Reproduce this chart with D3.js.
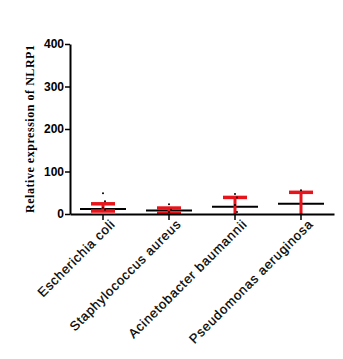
<!DOCTYPE html>
<html><head><meta charset="utf-8">
<script src="https://cdn.jsdelivr.net/npm/d3@7"></script>
<style>html,body{margin:0;padding:0;background:#fff;}svg{display:block;}</style>
</head><body>
<script>
const categories = ["Escherichia coli","Staphylococcus aureus","Acinetobacter baumannii","Pseudomonas aeruginosa"];
const meanValues = [12, 8, 17, 24];
const errLow = [7, 2, -5, -5];
const errHigh = [24, 14, 39, 51];
const pointsEcoli = [49, 30, 15, 10];
const pointsStaph = [23, 10, 5];
const pointsAcinet = [47, 39, 21, 5];
const pointsPseudo = [56];
const yTicks = [0, 100, 200, 300, 400];
const yLabel = "Relative expression of NLRP1";

const allPoints = [pointsEcoli, pointsStaph, pointsAcinet, pointsPseudo];
const W = 343, H = 359;
const svg = d3.select("body").append("svg").attr("width", W).attr("height", H);

const x = d3.scaleBand().domain(categories).range([70, 334]).padding(0);
const y = d3.scaleLinear().domain([0, 400]).range([214, 44]);

svg.append("clipPath").attr("id","c").append("rect").attr("x",70).attr("y",30).attr("width",270).attr("height",184);

const g = svg.append("g").attr("clip-path","url(#c)");
categories.forEach((c, i) => {
  const cx = x(c) + x.bandwidth()/2;
  g.append("line").attr("x1", cx-23).attr("x2", cx+23)
    .attr("y1", y(meanValues[i])).attr("y2", y(meanValues[i]))
    .attr("stroke","#000").attr("stroke-width",2);
  g.append("line").attr("x1", cx).attr("x2", cx)
    .attr("y1", y(errLow[i])).attr("y2", y(errHigh[i]))
    .attr("stroke","#e8141b").attr("stroke-width",3);
  [errLow[i], errHigh[i]].forEach(v => {
    if (v >= 0) g.append("line").attr("x1", cx-12).attr("x2", cx+12)
      .attr("y1", y(v)).attr("y2", y(v))
      .attr("stroke","#e8141b").attr("stroke-width",3.5);
  });
  allPoints[i].forEach((v, j) => {
    g.append("circle").attr("cx", cx + (j%2 ? 2 : 0)).attr("cy", y(v)).attr("r", 1)
      .attr("fill","#000");
  });
});

const yAxis = svg.append("g").attr("transform","translate(70,0)")
  .call(d3.axisLeft(y).tickValues(yTicks).tickSize(5).tickSizeOuter(0));
yAxis.select(".domain").attr("stroke","#000").attr("stroke-width",2);
yAxis.selectAll(".tick line").attr("stroke","#000").attr("stroke-width",1.5);
yAxis.selectAll(".tick text").attr("font-family","Liberation Sans, Arial, sans-serif")
  .attr("font-weight","bold").attr("font-size",12).attr("fill","#000").attr("x",-6);

const xAxis = svg.append("g").attr("transform","translate(0,214)")
  .call(d3.axisBottom(x).tickSize(6).tickSizeOuter(0));
xAxis.select(".domain").attr("stroke","#000").attr("stroke-width",2);
xAxis.selectAll(".tick line").attr("stroke","#000").attr("stroke-width",1.5);
xAxis.selectAll(".tick text")
  .attr("font-family","Liberation Sans, Arial, sans-serif")
  .attr("font-size",13).attr("fill","#000")
  .attr("stroke","#000").attr("stroke-width",0.25)
  .attr("letter-spacing","0.8px")
  .attr("text-anchor","end")
  .attr("transform","translate(4,2) rotate(-45)")
  .attr("dy","0.35em").attr("y",8).attr("x",0);

svg.append("text")
  .attr("transform","translate(34,129) rotate(-90)")
  .attr("text-anchor","middle")
  .attr("font-family","Liberation Serif, Times New Roman, serif")
  .attr("font-weight","bold").attr("font-size",12).attr("fill","#000")
  .attr("textLength",168).attr("lengthAdjust","spacing")
  .text(yLabel);
</script>
</body></html>
